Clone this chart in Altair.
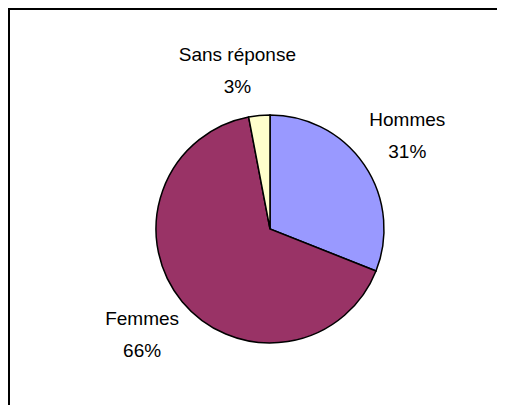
import altair as alt
import pandas as pd

categories = ["Hommes", "Femmes", "Sans réponse"]
values = [31, 66, 3]
pct_labels = ["31%", "66%", "3%"]
colors = ["#9999FF", "#993366", "#FFFFCC"]

df = pd.DataFrame({
    "cat": categories,
    "value": values,
    "pct": pct_labels,
    "order": list(range(len(categories))),
})
total = sum(values)

W, H = 489, 397
CX, CY = 262, 221
FONT = "Liberation Sans"

base = (
    alt.Chart(df)
    .transform_window(end="sum(value)", sort=[alt.SortField("order")], frame=[None, 0])
    .transform_calculate(start="datum.end - datum.value", mid="datum.end - datum.value / 2")
)

theta_scale = alt.Scale(domain=[0, total])

arc = base.mark_arc(outerRadius=114, stroke="black", strokeWidth=1.5).encode(
    theta=alt.Theta("start:Q", scale=theta_scale),
    theta2="end:Q",
    color=alt.Color("cat:N", scale=alt.Scale(domain=categories, range=colors), legend=None),
    x=alt.value(CX),
    y=alt.value(CY),
)

def labels(filter_expr, dx, dy):
    b = base.transform_filter(filter_expr)
    common = dict(radius=166, font=FONT, fontSize=19, color="black",
                  align="center", baseline="middle")
    name = b.mark_text(dx=dx, dy=dy - 16, **common).encode(
        theta=alt.Theta("mid:Q", scale=theta_scale), text="cat:N",
        x=alt.value(CX), y=alt.value(CY))
    pct = b.mark_text(dx=dx, dy=dy + 16, **common).encode(
        theta=alt.Theta("mid:Q", scale=theta_scale), text="pct:N",
        x=alt.value(CX), y=alt.value(CY))
    return [name, pct]

main_labels = labels("datum.cat != 'Sans réponse'", 0, 0)
small_labels = labels("datum.cat == 'Sans réponse'", -17, 7)

frame_left = alt.Chart(df).mark_rule(color="black", strokeWidth=2).encode(
    x=alt.value(1), y=alt.value(0), y2=alt.value(H)
)
frame_top = alt.Chart(df).mark_rule(color="black", strokeWidth=2).encode(
    y=alt.value(1), x=alt.value(0), x2=alt.value(W)
)

chart = alt.layer(frame_left, frame_top, arc, *main_labels, *small_labels).properties(
    width=W, height=H, padding=0, autosize=alt.AutoSizeParams(type="none"),
    background="white",
).configure_view(stroke="transparent", strokeWidth=0)

chart.save("out.html", embed_options={"renderer": "svg", "actions": False})
